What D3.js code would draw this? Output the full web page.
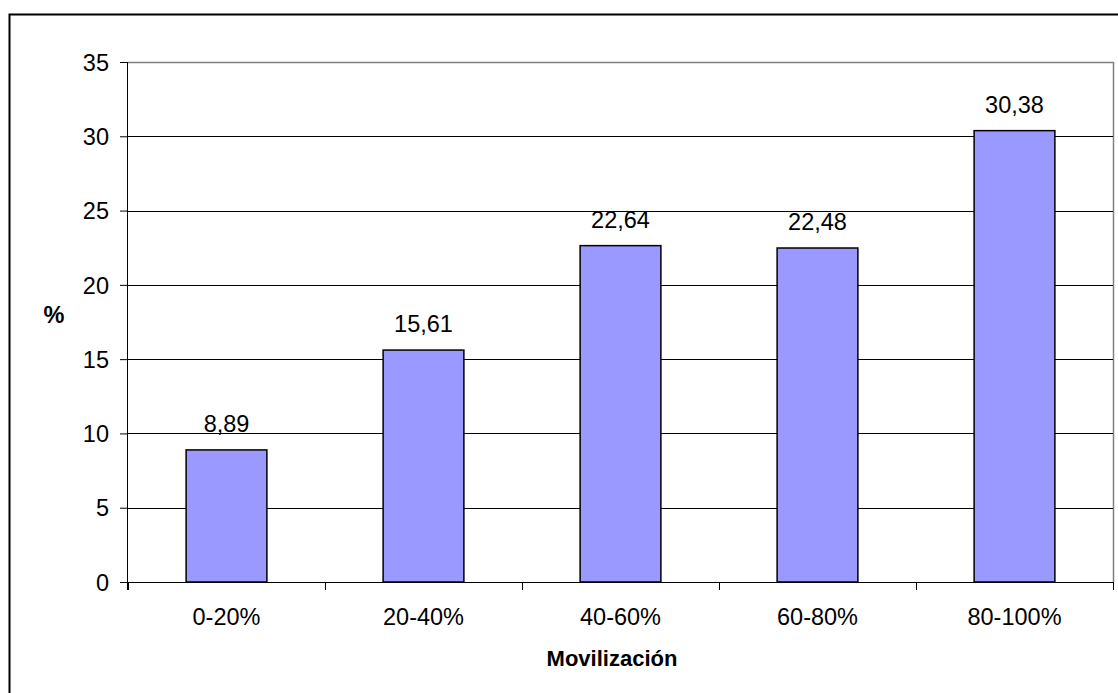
<!DOCTYPE html>
<html><head><meta charset="utf-8">
<script src="https://cdn.jsdelivr.net/npm/d3@7"></script>
<style>body{margin:0;background:#fff;} text{font-family:"Liberation Sans",Arial,sans-serif;}</style>
</head><body>
<svg id="c" width="1118" height="693"></svg>
<script>
const categories = ["0-20%", "20-40%", "40-60%", "60-80%", "80-100%"];
const values = [8.89, 15.61, 22.64, 22.48, 30.38];
const valueLabels = ["8,89", "15,61", "22,64", "22,48", "30,38"];
const yTicks = [0, 5, 10, 15, 20, 25, 30, 35];

const FS = 23.5;
const svg = d3.select("#c");
const L = 128, R = 1113, T = 62, B = 582;

// outer border
svg.append("path").attr("d", `M9.5,693 L9.5,14.5 L1118,14.5`).attr("fill","none").attr("stroke","#000").attr("stroke-width",2);

const x = d3.scaleBand().domain(categories).range([L, R]).paddingInner(0.59).paddingOuter(0.295);
const xb = d3.scaleBand().domain(categories).range([L, R]);
const y = d3.scaleLinear().domain([0, 35]).range([B, T]);

// plot border (grey)
svg.append("path").attr("d", `M${L},${T+0.5} L${R+0.5},${T+0.5} L${R+0.5},${B}`).attr("fill","none").attr("stroke","#808080").attr("stroke-width",1.5);

// gridlines
svg.append("g").selectAll("line").data(yTicks.filter(d=>d>0 && d<35)).join("line")
  .attr("x1", L).attr("x2", R).attr("y1", d=>Math.round(y(d))+0.5).attr("y2", d=>Math.round(y(d))+0.5)
  .attr("stroke","#000").attr("stroke-width",1);

// bars
svg.append("g").selectAll("rect").data(values).join("rect")
  .attr("x", (d,i)=>x(categories[i])).attr("width", x.bandwidth())
  .attr("y", d=>y(d)).attr("height", d=>B - y(d))
  .attr("fill","#9999ff").attr("stroke","#000").attr("stroke-width",1.5);

// value labels
svg.append("g").selectAll("text").data(values).join("text")
  .attr("x", (d,i)=>x(categories[i]) + x.bandwidth()/2).attr("y", d=>y(d)-18)
  .attr("text-anchor","middle").attr("font-size",FS).attr("fill","#000")
  .text((d,i)=>valueLabels[i]);

// y axis
const ya = d3.axisLeft(y).tickValues(yTicks).tickSize(8).tickPadding(11).tickFormat(d3.format("d"));
const gy = svg.append("g").attr("transform",`translate(${L},0)`).call(ya);
gy.attr("font-size", null).attr("font-family", null);
gy.selectAll("text").attr("font-size",FS).attr("fill","#000").attr("dy","0.35em");
gy.selectAll("line").attr("stroke","#000");
gy.select(".domain").attr("stroke","#000").attr("d",`M-0.5,${T}V${B+8}`);

// x axis
const gx = svg.append("g").attr("transform",`translate(0,${B})`);
gx.append("line").attr("x1",L).attr("x2",R).attr("y1",0.5).attr("y2",0.5).attr("stroke","#000");
const bounds = categories.map(c=>xb(c)).concat([R]);
gx.selectAll("line.t").data(bounds).join("line").attr("class","t")
  .attr("x1",d=>Math.round(d)+0.5).attr("x2",d=>Math.round(d)+0.5).attr("y1",0).attr("y2",8).attr("stroke","#000");
gx.selectAll("text").data(categories).join("text")
  .attr("x", d=>xb(d)+xb.bandwidth()/2).attr("y", 43)
  .attr("text-anchor","middle").attr("font-size",FS).attr("fill","#000").text(d=>d);

// axis titles
svg.append("text").attr("x",54).attr("y",323).attr("text-anchor","middle").attr("font-size",FS).attr("font-weight","bold").text("%");
svg.append("text").attr("x",612).attr("y",666).attr("text-anchor","middle").attr("font-size",22).attr("font-weight","bold").text("Movilización");
</script>
</body></html>
